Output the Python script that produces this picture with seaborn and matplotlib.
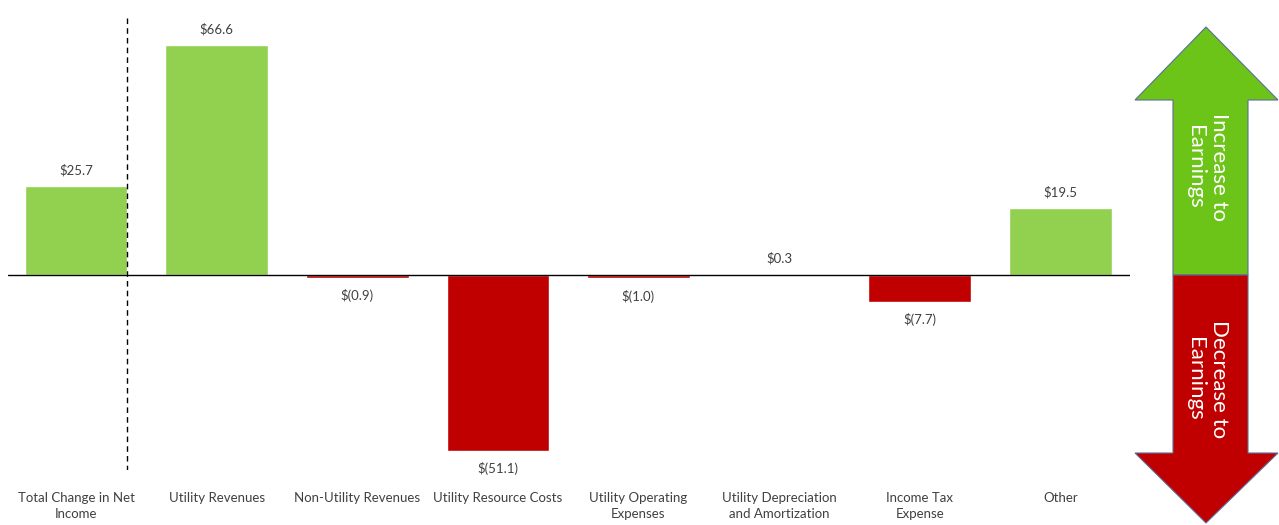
import matplotlib
matplotlib.use("Agg")
import matplotlib.pyplot as plt
from matplotlib.patches import Polygon
import seaborn as sns
import pandas as pd

# Net income bridge components ($ millions)
categories = [
    "Total Change in Net\nIncome",
    "Utility Revenues",
    "Non-Utility Revenues",
    "Utility Resource Costs",
    "Utility Operating\nExpenses",
    "Utility Depreciation\nand Amortization",
    "Income Tax\nExpense",
    "Other",
]
values = [25.7, 66.6, -0.9, -51.1, -1.0, 0.3, -7.7, 19.5]
value_labels = ["$25.7", "$66.6", "$(0.9)", "$(51.1)", "$(1.0)", "$0.3", "$(7.7)", "$19.5"]

GREEN = "#92D050"
RED = "#C00000"
bar_colors = [GREEN if v >= 0 else RED for v in values]

sns.set_style("white")
plt.rcParams["font.family"] = ["Lato", "DejaVu Sans"]

fig = plt.figure(figsize=(12.79, 5.25), dpi=100)
W, H = 1279, 525
ax = fig.add_axes([8 / W, 55 / H, 1122 / W, 470 / H])

df = pd.DataFrame({"category": categories, "value": values})
sns.barplot(data=df, x="category", y="value", hue="category",
            palette=bar_colors, legend=False, width=0.73, ax=ax,
            saturation=1)

ax.set_xlim(-0.484, 7.496)
ax.set_ylim(-56.5, 79.7)
for s in ax.spines.values():
    s.set_visible(False)
ax.set_yticks([])
ax.set_xlabel("")
ax.set_ylabel("")
ax.tick_params(axis="x", length=0, pad=16)
ax.set_xticks(range(len(categories)))
ax.set_xticklabels(categories, fontsize=9.5, color="#404040", va="top",
                   linespacing=1.35)

# zero line and separator after the total bar
ax.axhline(0, color="black", lw=1.0)
ax.plot([0.365, 0.365], [74.5, -56.5], color="black", lw=1.0,
        linestyle=(0, (4, 3)))

for i, (v, lab) in enumerate(zip(values, value_labels)):
    if v >= 0:
        ax.annotate(lab, (i, v), xytext=(0, 7), textcoords="offset points",
                    ha="center", va="bottom", fontsize=9.5, color="#404040")
    else:
        ax.annotate(lab, (i, v), xytext=(0, -8), textcoords="offset points",
                    ha="center", va="top", fontsize=9.5, color="#404040")

# double-headed earnings arrow on the right (figure pixel coordinates)
def fy(y):
    return (H - y) / H

def fx(x):
    return x / W

mid = 275
up = [(1173, mid), (1173, 100), (1135, 100), (1206, 27), (1278, 100),
      (1248, 100), (1248, mid)]
down = [(1173, mid), (1173, 453), (1135, 453), (1206, 523), (1278, 453),
        (1248, 453), (1248, mid)]
for pts, col in ((up, "#6CC418"), (down, "#C00000")):
    poly = Polygon([(fx(x), fy(y)) for x, y in pts], closed=True,
                   facecolor=col, edgecolor="#5A6E9A", lw=0.8,
                   transform=fig.transFigure)
    fig.patches.append(poly)

fig.text(fx(1207), fy(167), "Increase to\nEarnings", rotation=-90,
         ha="center", va="center", color="white", fontsize=16,
         linespacing=1.2)
fig.text(fx(1207), fy(379), "Decrease to\nEarnings", rotation=-90,
         ha="center", va="center", color="white", fontsize=16,
         linespacing=1.2)

fig.savefig("out.png", dpi=100)
